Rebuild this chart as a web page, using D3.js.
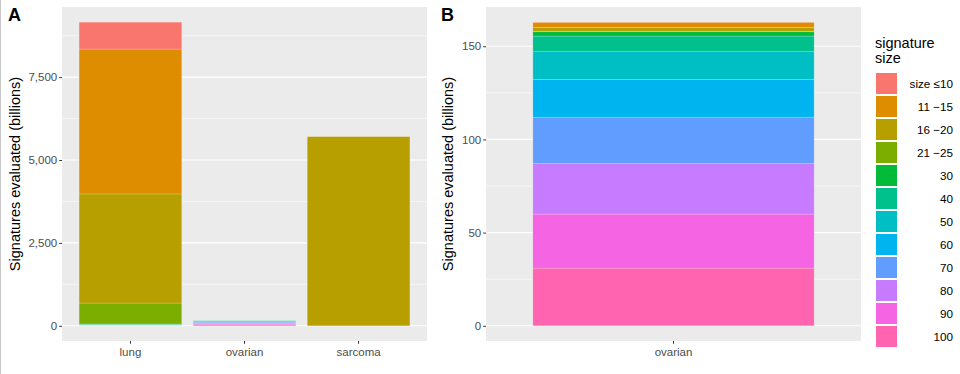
<!DOCTYPE html>
<html>
<head>
<meta charset="utf-8">
<script src="https://cdn.jsdelivr.net/npm/d3@7"></script>
<style>
  body { margin: 0; background: #fff; }
  svg { display: block; font-family: "Liberation Sans", Arial, sans-serif; }
</style>
</head>
<body>
<svg id="chart" width="960" height="374"></svg>
<script>
'use strict';

// signature size groups (legend order, first one is stacked on top)
const sizes = ['size \u226410', '11 \u221215', '16 \u221220', '21 \u221225', '30', '40', '50', '60', '70', '80', '90', '100'];
const colors = ['#F8766D', '#DE8C00', '#B79F00', '#7CAE00', '#00BA38', '#00C08B', '#00BFC4', '#00B4F0', '#619CFF', '#C77CFF', '#F564E3', '#FF64B0'];

// signatures evaluated (billions) per cancer type
const cancers = ['lung', 'ovarian', 'sarcoma'];
const lungVals = [814, 4368, 3290, 634, 12, 14, 10, 6, 4, 2, 1, 1];
const ovarianVals = [0.2, 2.7, 2.0, 0.3, 2.3, 8.1, 15.1, 20.3, 24.7, 27.3, 29.0, 30.9];
const sarcomaVals = [0, 0, 5705, 0, 0, 0, 0, 0, 0, 0, 0, 0];

// panel A ticks
const ticksA = [0, 2500, 5000, 7500];
const minorA = [1250, 3750, 6250, 8750];
// panel B ticks
const ticksB = [0, 50, 100, 150];
const minorB = [25, 75, 125];

const svg = d3.select('#chart');
const color = d3.scaleOrdinal().domain(sizes).range(colors);

function toRow(name, vals)
{
    const row = { cancer: name };
    sizes.forEach((s, i) => row[s] = vals[i]);
    return row;
}

function drawPanel(p)
{
    const g = svg.append('g');
    const rows = p.cats.map((c, i) => toRow(c, p.vals[i]));
    const series = d3.stack().keys(sizes).order(d3.stackOrderReverse)(rows);
    const maxTot = d3.max(rows, (r) => d3.sum(sizes, (s) => r[s]));

    const x = d3.scaleBand().domain(p.cats).range([p.x0, p.x1]).paddingInner(0.1).paddingOuter(0.15);
    const y = d3.scaleLinear().domain([-0.05 * maxTot, 1.05 * maxTot]).range([p.y1, p.y0]);

    // background
    g.append('rect')
        .attr('x', p.x0).attr('y', p.y0)
        .attr('width', p.x1 - p.x0).attr('height', p.y1 - p.y0)
        .attr('fill', '#EBEBEB');

    // grid
    g.selectAll('.minor').data(p.minor).enter().append('line')
        .attr('x1', p.x0).attr('x2', p.x1)
        .attr('y1', (d) => y(d)).attr('y2', (d) => y(d))
        .attr('stroke', '#fff').attr('stroke-width', 0.55);
    g.selectAll('.major').data(p.ticks).enter().append('line')
        .attr('x1', p.x0).attr('x2', p.x1)
        .attr('y1', (d) => y(d)).attr('y2', (d) => y(d))
        .attr('stroke', '#fff').attr('stroke-width', 1.1);

    // bars
    g.selectAll('.layer').data(series).enter().append('g')
        .attr('fill', (d) => color(d.key))
        .selectAll('rect').data((d) => d).enter().append('rect')
        .attr('x', (d) => x(d.data.cancer))
        .attr('width', x.bandwidth())
        .attr('y', (d) => y(d[1]))
        .attr('height', (d) => Math.max(0, y(d[0]) - y(d[1])))
        .attr('stroke', '#fff').attr('stroke-opacity', 0.3).attr('stroke-width', 0.6);

    // y axis
    const ya = g.append('g')
        .attr('transform', 'translate(' + p.x0 + ',0)')
        .call(d3.axisLeft(y).tickValues(p.ticks).tickSize(2.75).tickPadding(2).tickFormat(d3.format(',')));
    ya.select('.domain').remove();
    ya.selectAll('line').attr('stroke', '#333');
    ya.selectAll('text').attr('fill', '#4D4D4D').style('font-size', '11.5px').attr('font-family', null);

    // x axis
    const xa = g.append('g')
        .attr('transform', 'translate(0,' + p.y1 + ')')
        .call(d3.axisBottom(x).tickSize(2.75).tickPadding(4));
    xa.select('.domain').remove();
    xa.selectAll('line').attr('stroke', '#333');
    xa.selectAll('text').attr('fill', '#4D4D4D').style('font-size', '11.5px').attr('font-family', null);

    // y title
    g.append('text')
        .attr('transform', 'translate(' + p.titleX + ',' + ((p.y0 + p.y1) / 2) + ') rotate(-90)')
        .attr('text-anchor', 'middle')
        .style('font-size', '14.5px')
        .text('Signatures evaluated (billions)');

    // tag
    g.append('text')
        .attr('x', p.tagX).attr('y', 21)
        .style('font-size', '18px').style('font-weight', 'bold')
        .text(p.tag);
}

drawPanel({ tag: 'A', tagX: 8, titleX: 20, cats: cancers, vals: [lungVals, ovarianVals, sarcomaVals],
    ticks: ticksA, minor: minorA, x0: 62, x1: 427, y0: 7, y1: 341 });
drawPanel({ tag: 'B', tagX: 441, titleX: 453, cats: ['ovarian'], vals: [ovarianVals],
    ticks: ticksB, minor: minorB, x0: 486, x1: 861, y0: 7, y1: 341 });

// legend
const lg = svg.append('g').attr('transform', 'translate(875,0)');
lg.append('text').attr('x', 0).attr('y', 48).style('font-size', '14.5px').text('signature');
lg.append('text').attr('x', 0).attr('y', 63).style('font-size', '14.5px').text('size');
const item = lg.selectAll('.item').data(sizes).enter().append('g')
    .attr('transform', (d, i) => 'translate(0,' + (72 + i * 23) + ')');
item.append('rect')
    .attr('x', 0.5).attr('y', 0.5).attr('width', 22).attr('height', 22)
    .attr('fill', (d) => color(d)).attr('stroke', '#fff').attr('stroke-width', 1);
item.append('text')
    .attr('x', 78).attr('y', 16)
    .attr('text-anchor', 'end')
    .style('font-size', '11.7px')
    .text((d) => d);

// left frame line
svg.append('line').attr('x1', 0.5).attr('x2', 0.5).attr('y1', 0).attr('y2', 374)
    .attr('stroke', '#c8c8c8');
</script>
</body>
</html>
